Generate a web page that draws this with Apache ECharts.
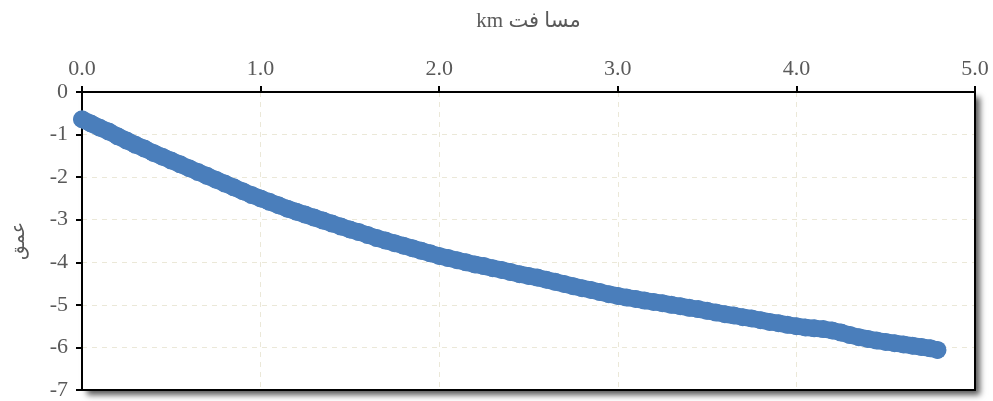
<!DOCTYPE html>
<html>
<head>
<meta charset="utf-8">
<script src="https://cdn.jsdelivr.net/npm/echarts@6/dist/echarts.min.js"></script>
<style>
  html, body { margin: 0; padding: 0; background: #fff; }
  #chart { width: 993px; height: 401px; }
</style>
</head>
<body>
<div id="chart"></div>
<script>
// distance (km) / depth pairs
var distance = [
  0.00, 0.05, 0.10, 0.15, 0.20, 0.25, 0.30, 0.35, 0.40, 0.45,
  0.50, 0.55, 0.60, 0.65, 0.70, 0.75, 0.80, 0.85, 0.90, 0.95,
  1.00, 1.05, 1.10, 1.15, 1.20, 1.25, 1.30, 1.35, 1.40, 1.45,
  1.50, 1.55, 1.60, 1.65, 1.70, 1.75, 1.80, 1.85, 1.90, 1.95,
  2.00, 2.05, 2.10, 2.15, 2.20, 2.25, 2.30, 2.35, 2.40, 2.45,
  2.50, 2.55, 2.60, 2.65, 2.70, 2.75, 2.80, 2.85, 2.90, 2.95,
  3.00, 3.05, 3.10, 3.15, 3.20, 3.25, 3.30, 3.35, 3.40, 3.45,
  3.50, 3.55, 3.60, 3.65, 3.70, 3.75, 3.80, 3.85, 3.90, 3.95,
  4.00, 4.05, 4.10, 4.15, 4.20, 4.25, 4.30, 4.35, 4.40, 4.45,
  4.50, 4.55, 4.60, 4.65, 4.70, 4.75, 4.79
];
var depth = [
  -0.64, -0.74, -0.84, -0.93, -1.04, -1.14, -1.24, -1.33, -1.43, -1.52,
  -1.61, -1.70, -1.79, -1.88, -1.97, -2.06, -2.15, -2.24, -2.33, -2.42,
  -2.50, -2.58, -2.66, -2.74, -2.81, -2.88, -2.95, -3.02, -3.09, -3.16,
  -3.23, -3.29, -3.36, -3.43, -3.49, -3.55, -3.61, -3.67, -3.73, -3.79,
  -3.85, -3.90, -3.95, -4.00, -4.05, -4.09, -4.14, -4.18, -4.23, -4.28,
  -4.32, -4.36, -4.41, -4.46, -4.51, -4.56, -4.61, -4.65, -4.70, -4.75,
  -4.79, -4.83, -4.86, -4.90, -4.93, -4.96, -5.00, -5.03, -5.07, -5.10,
  -5.14, -5.18, -5.22, -5.25, -5.29, -5.32, -5.36, -5.40, -5.43, -5.47,
  -5.50, -5.53, -5.55, -5.57, -5.60, -5.65, -5.71, -5.76, -5.80, -5.84,
  -5.87, -5.90, -5.93, -5.96, -5.99, -6.02, -6.06
];

// axis titles (Arabic + km, ordered so km lands on the left like the original)
var xName = 'km مسا فت';
var yName = 'عمق';

var points = distance.map(function (d, i) { return [d, depth[i]]; });

var chart = echarts.init(document.getElementById('chart'));

var serif = '"Liberation Serif", "Times New Roman", "DejaVu Sans", serif';
var grey = '#595959';
var blue = '#4a7ebb';
var gridLine = { show: true, lineStyle: { color: '#ebe8d8', type: [5, 5], width: 1 } };

var option = {
    backgroundColor: '#ffffff',
    animation: false,
    grid: {
        left: 82,
        right: 18,
        top: 92,
        bottom: 6,
        show: true,
        backgroundColor: '#ffffff',
        borderWidth: 0,
        shadowColor: 'rgba(0, 0, 0, 0.65)',
        shadowBlur: 6,
        shadowOffsetX: 5,
        shadowOffsetY: 5
    },
    xAxis: [
        {
            type: 'value',
            position: 'top',
            min: 0,
            max: 5,
            interval: 1,
            name: xName,
            nameLocation: 'middle',
            nameGap: 60,
            nameTextStyle: { color: grey, fontFamily: serif, fontSize: 21 },
            axisLine: { onZero: false, lineStyle: { color: '#000', width: 2 } },
            axisTick: { show: true, length: 6, lineStyle: { color: '#000', width: 2 } },
            axisLabel: {
                color: grey,
                fontFamily: serif,
                fontSize: 22,
                margin: 12,
                formatter: function (v) { return v.toFixed(1); }
            },
            splitLine: gridLine
        },
        {
            // bottom frame line
            type: 'value',
            position: 'bottom',
            min: 0,
            max: 5,
            axisLine: { onZero: false, lineStyle: { color: '#000', width: 2 } },
            axisTick: { show: false },
            axisLabel: { show: false },
            splitLine: { show: false }
        }
    ],
    yAxis: [
        {
            type: 'value',
            min: -7,
            max: 0,
            interval: 1,
            name: yName,
            nameLocation: 'middle',
            nameGap: 53,
            nameRotate: 90,
            nameTextStyle: { color: grey, fontFamily: '"DejaVu Sans", sans-serif', fontSize: 19 },
            axisLine: { onZero: false, lineStyle: { color: '#000', width: 2 } },
            axisTick: { show: true, length: 6, lineStyle: { color: '#000', width: 2 } },
            axisLabel: { color: grey, fontFamily: serif, fontSize: 22, margin: 14 },
            splitLine: gridLine
        },
        {
            // right frame line
            type: 'value',
            position: 'right',
            min: -7,
            max: 0,
            axisLine: { show: true, onZero: false, lineStyle: { color: '#000', width: 2 } },
            axisTick: { show: false },
            axisLabel: { show: false },
            splitLine: { show: false }
        }
    ],
    series: [
        {
            // fills the gaps between the dense markers
            type: 'line',
            data: points,
            showSymbol: false,
            lineStyle: { color: blue, width: 17, cap: 'round', join: 'round' },
            silent: true
        },
        {
            type: 'scatter',
            data: points,
            symbol: 'circle',
            symbolSize: 18,
            itemStyle: { color: blue, opacity: 1 }
        }
    ]
};

chart.setOption(option);
</script>
</body>
</html>
